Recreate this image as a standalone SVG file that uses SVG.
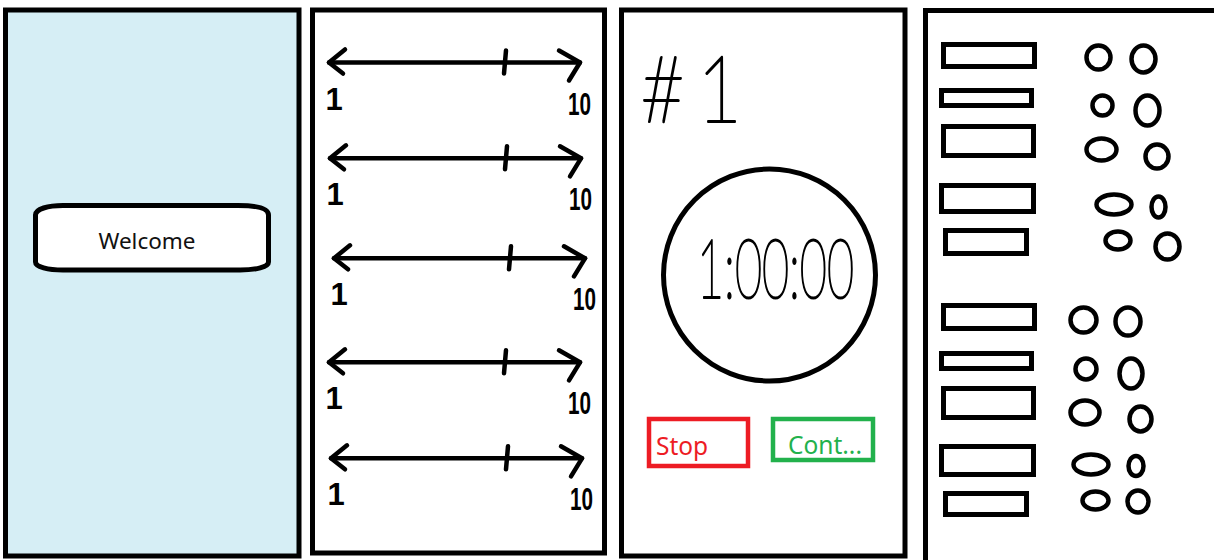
<svg xmlns="http://www.w3.org/2000/svg" xmlns:xlink="http://www.w3.org/1999/xlink" width="1214" height="560" viewBox="0 0 1214 560">
  <style>
    .frame { fill: #ffffff; stroke: #000; stroke-width: 5; }
    .ink { fill: none; stroke: #000; stroke-width: 4.5; stroke-linecap: round; stroke-linejoin: round; }
    .box { fill: #ffffff; stroke: #000; stroke-width: 5; }
    .dot { fill: #ffffff; stroke: #000; stroke-width: 4.5; }
    .scale { font-family: "Liberation Sans Narrow", "Liberation Sans", sans-serif; font-weight: bold; font-size: 31px; fill: #000; }
    .hand { font-family: Lato, "Open Sans", sans-serif; font-weight: 100; fill: #000; stroke: #000; stroke-width: 2.2; stroke-linejoin: round; }
    .ui { font-family: "Noto Sans", "Open Sans", sans-serif; }
  </style>
  <defs>
    <!-- one slider row: double-headed line with a tick and its 1..10 labels -->
    <g id="slider">
      <path class="ink" d="M0,0 L251,0"/>
      <path class="ink" d="M16,-13 L0,0 L14,11"/>
      <path class="ink" d="M230,-12 L251,0 L240,18"/>
      <path class="ink" d="M177,-12 L175,11"/>
      <text class="scale" x="5" y="47" text-anchor="middle">1</text>
      <text class="scale" x="239" y="52" textLength="23" lengthAdjust="spacingAndGlyphs">10</text>
    </g>
  </defs>

  <rect width="1214" height="560" fill="#ffffff"/>

  <!-- screen 1: welcome -->
  <g id="screen-welcome">
    <rect x="5.5" y="10" width="293.5" height="546" fill="#d6eef5" stroke="#000" stroke-width="5"/>
    <g id="welcome-button">
      <path d="M63,205.5 L238,205.5 C256,205.5 268.5,208 268.5,215 L268.5,262 C268.5,267 256,270 240,270 L63,270 C48,270 35.5,267 35.5,262 L35.5,215 C35.5,209 48,205.5 63,205.5 Z" fill="#ffffff" stroke="#000" stroke-width="5"/>
      <text class="ui" x="147" y="249" font-size="22.5" fill="#111" text-anchor="middle">Welcome</text>
    </g>
  </g>

  <!-- screen 2: rating sliders -->
  <g id="screen-sliders">
    <rect class="frame" x="312.5" y="10" width="292" height="543"/>
    <use id="slider-1" xlink:href="#slider" transform="translate(329,62.5)"/>
    <use id="slider-2" xlink:href="#slider" transform="translate(330,158.3)"/>
    <use id="slider-3" xlink:href="#slider" transform="translate(334,258.3)"/>
    <use id="slider-4" xlink:href="#slider" transform="translate(329,362.3)"/>
    <use id="slider-5" xlink:href="#slider" transform="translate(331,458.3)"/>
  </g>

  <!-- screen 3: timer -->
  <g id="screen-timer">
    <rect class="frame" x="621.5" y="10" width="283.5" height="546"/>
    <text class="hand" x="640" y="122" font-size="92" stroke-width="2.6" textLength="102" lengthAdjust="spacingAndGlyphs">#<tspan dx="14">1</tspan></text>
    <g id="timer-dial">
      <circle cx="769.5" cy="275" r="106" fill="none" stroke="#000" stroke-width="5"/>
      <text class="hand" x="697" y="298" font-size="82" textLength="157" lengthAdjust="spacingAndGlyphs">1:00:00</text>
    </g>
    <g id="stop-button">
      <rect x="649" y="419" width="99" height="47" fill="none" stroke="#ed1c24" stroke-width="4.5"/>
      <text class="ui" x="656" y="455" font-size="24.5" fill="#ed1c24">Stop</text>
    </g>
    <g id="continue-button">
      <rect x="773" y="419" width="100" height="41" fill="none" stroke="#22b14c" stroke-width="4.5"/>
      <text class="ui" x="788" y="454" font-size="24.5" fill="#22b14c">Cont...</text>
    </g>
  </g>

  <!-- screen 4: list of fields and toggles -->
  <g id="screen-list">
    <rect class="frame" x="925.5" y="10.5" width="300" height="560"/>
    <g id="fields">
      <rect class="box" x="943.5" y="44.5" width="91" height="22"/>
      <rect class="box" x="941.5" y="90.5" width="90" height="15"/>
      <rect class="box" x="943.5" y="126.5" width="90" height="29"/>
      <rect class="box" x="941.5" y="185.5" width="92" height="26"/>
      <rect class="box" x="945.5" y="230.5" width="81" height="23"/>
      <rect class="box" x="943.5" y="305.5" width="91" height="23"/>
      <rect class="box" x="941.5" y="353.5" width="90" height="15"/>
      <rect class="box" x="943.5" y="388.5" width="90" height="29"/>
      <rect class="box" x="941.5" y="446.5" width="92" height="28"/>
      <rect class="box" x="945.5" y="493.5" width="81" height="21"/>
    </g>
    <g id="toggles">
      <ellipse class="dot" cx="1098.5" cy="57.5" rx="12" ry="12"/>
      <ellipse class="dot" cx="1143.5" cy="59" rx="12" ry="13.5"/>
      <ellipse class="dot" cx="1102.5" cy="105.5" rx="10" ry="10"/>
      <ellipse class="dot" cx="1147.5" cy="110.5" rx="12" ry="15"/>
      <ellipse class="dot" cx="1101.5" cy="149.5" rx="15" ry="11"/>
      <ellipse class="dot" cx="1157" cy="156.5" rx="11.5" ry="12"/>
      <ellipse class="dot" cx="1114" cy="204.5" rx="17.5" ry="10"/>
      <ellipse class="dot" cx="1158.5" cy="207" rx="7" ry="10.5"/>
      <ellipse class="dot" cx="1118" cy="240.5" rx="12.5" ry="9"/>
      <ellipse class="dot" cx="1167.5" cy="246.5" rx="12" ry="13"/>
      <ellipse class="dot" cx="1083.5" cy="320" rx="13" ry="12.5"/>
      <ellipse class="dot" cx="1128" cy="321.5" rx="12.5" ry="14"/>
      <ellipse class="dot" cx="1086" cy="369" rx="10.5" ry="10.5"/>
      <ellipse class="dot" cx="1131" cy="373.5" rx="11.5" ry="15"/>
      <ellipse class="dot" cx="1085" cy="412.5" rx="14.5" ry="12"/>
      <ellipse class="dot" cx="1140.5" cy="419" rx="11" ry="12.5"/>
      <ellipse class="dot" cx="1091" cy="464.5" rx="17.5" ry="10"/>
      <ellipse class="dot" cx="1136" cy="466" rx="7.5" ry="10"/>
      <ellipse class="dot" cx="1095.5" cy="500.5" rx="13" ry="9"/>
      <ellipse class="dot" cx="1138" cy="501.5" rx="10.5" ry="11"/>
    </g>
  </g>
</svg>
